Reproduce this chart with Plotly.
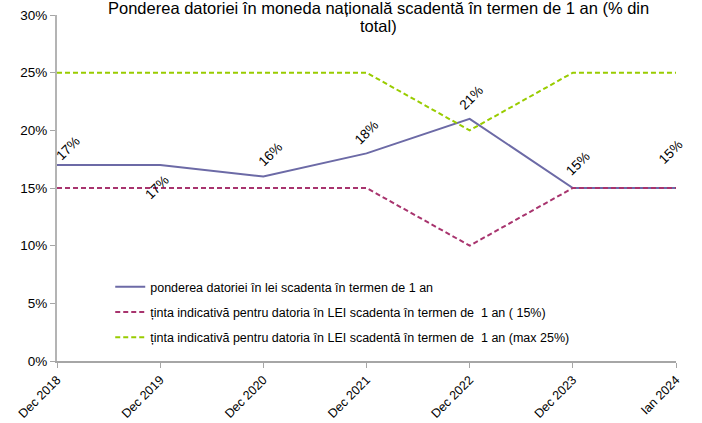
import plotly.graph_objects as go

categories = ["Dec 2018", "Dec 2019", "Dec 2020", "Dec 2021", "Dec 2022", "Dec 2023", "Ian 2024"]
share_lei = [17, 17, 16, 18, 21, 15, 15]
target_min = [15, 15, 15, 15, 10, 15, 15]
target_max = [25, 25, 25, 25, 20, 25, 25]
y_ticks = [0, 5, 10, 15, 20, 25, 30]

names = [
    "ponderea datoriei în lei scadenta în termen de 1 an",
    "ținta indicativă pentru datoria în LEI scadenta în termen de  1 an ( 15%)",
    "ținta indicativă pentru datoria în LEI scadentă în termen de  1 an (max 25%)",
]
title_lines = ["Ponderea datoriei în moneda națională scadentă în termen de 1 an (% din", "total)"]

# label placement offsets (pixels) for the data labels
label_dx = [11, -3, 7, 0, 2, 5, -6]
label_dy = [16, -23, 22, 21, 21, 25, 36]

FONT = "Liberation Sans, Arial, sans-serif"

fig = go.Figure()
fig.add_trace(go.Scatter(x=categories, y=share_lei, mode="lines", name=names[0],
                         legendgroup="a", line=dict(color="#6C6AA6", width=2)))
fig.add_trace(go.Scatter(x=categories, y=target_min, mode="lines", name=names[1],
                         legendgroup="b", line=dict(color="#A8346E", width=2, dash="5px,3px")))
fig.add_trace(go.Scatter(x=categories, y=target_max, mode="lines", name=names[2],
                         legendgroup="c", line=dict(color="#99CC00", width=2, dash="5px,3px")))

for c, v, dx, dy in zip(categories, share_lei, label_dx, label_dy):
    fig.add_annotation(x=c, y=v, text=f"{v}%", showarrow=False, textangle=-45,
                       font=dict(family=FONT, size=13.5, color="#000000"),
                       xshift=dx, yshift=dy)

for i, line in enumerate(title_lines):
    fig.add_annotation(xref="paper", yref="paper", x=0.519, y=1.0202 - 0.052 * i,
                       xanchor="center", yanchor="middle", text=line, showarrow=False,
                       height=18, borderpad=0,
                       font=dict(family=FONT, size=16.5, color="#000000"))

fig.update_layout(
    width=702, height=423,
    margin=dict(l=57, r=26, t=15, b=62, autoexpand=False),
    paper_bgcolor="white", plot_bgcolor="white",
    font=dict(family=FONT, size=13, color="#000000"),
    showlegend=True,
    legend=dict(x=0.086, y=0.257, xanchor="left", yanchor="top",
                bgcolor="rgba(0,0,0,0)", font=dict(size=12.5), tracegroupgap=6,
                itemwidth=30),
    xaxis=dict(type="category", range=[0, 6], showgrid=False, showline=True,
               linecolor="#A6A6A6", linewidth=1.5, ticks="outside", ticklen=5,
               tickcolor="#A6A6A6", tickangle=-45, tickfont=dict(size=12.5),
               automargin=False),
    yaxis=dict(range=[0, 30], tickvals=y_ticks, ticktext=[f"{t}%" for t in y_ticks],
               showgrid=False, showline=True, linecolor="#B4B4B4", linewidth=2,
               ticks="outside", ticklen=5, tickcolor="#A6A6A6", zeroline=False,
               tickfont=dict(size=13.5), automargin=False),
)

fig.write_html("out.html", config={"displayModeBar": False},
               post_script="document.body.style.margin='0';document.body.style.overflow='hidden';")
